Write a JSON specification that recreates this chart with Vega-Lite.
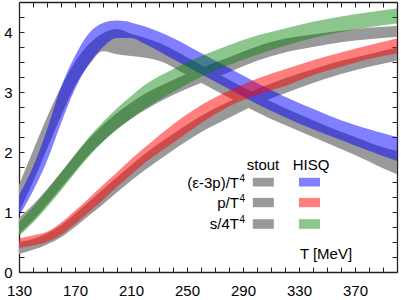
{
  "$schema": "https://vega.github.io/schema/vega-lite/v6.json",
  "autosize": "none",
  "width": 378,
  "height": 270,
  "padding": {"left": 19, "top": 2, "right": 4, "bottom": 28},
  "background": "white",
  "config": {
    "view": {"stroke": null},
    "font": "Liberation Sans",
    "axis": {"grid": false, "domainColor": "#222", "domainWidth": 1.3, "tickColor": "#222", "tickWidth": 1, "tickSize": -5, "labelFont": "Liberation Sans", "labelFontSize": 15, "labelColor": "black", "title": null}
  },
  "datasets": {
    "bands": [
      {"set": "stout", "q": "I", "T": 130, "lo": 1.0, "hi": 1.45},
      {"set": "stout", "q": "I", "T": 140, "lo": 1.5, "hi": 2.02},
      {"set": "stout", "q": "I", "T": 150, "lo": 2.05, "hi": 2.58},
      {"set": "stout", "q": "I", "T": 160, "lo": 2.6, "hi": 3.08},
      {"set": "stout", "q": "I", "T": 170, "lo": 3.1, "hi": 3.5},
      {"set": "stout", "q": "I", "T": 180, "lo": 3.45, "hi": 3.8},
      {"set": "stout", "q": "I", "T": 190, "lo": 3.68, "hi": 3.98},
      {"set": "stout", "q": "I", "T": 200, "lo": 3.63, "hi": 4.05},
      {"set": "stout", "q": "I", "T": 210, "lo": 3.6, "hi": 3.97},
      {"set": "stout", "q": "I", "T": 220, "lo": 3.57, "hi": 3.9},
      {"set": "stout", "q": "I", "T": 230, "lo": 3.52, "hi": 3.82},
      {"set": "stout", "q": "I", "T": 250, "lo": 3.28, "hi": 3.58},
      {"set": "stout", "q": "I", "T": 270, "lo": 3.03, "hi": 3.33},
      {"set": "stout", "q": "I", "T": 290, "lo": 2.78, "hi": 3.08},
      {"set": "stout", "q": "I", "T": 310, "lo": 2.55, "hi": 2.84},
      {"set": "stout", "q": "I", "T": 330, "lo": 2.35, "hi": 2.63},
      {"set": "stout", "q": "I", "T": 350, "lo": 2.15, "hi": 2.43},
      {"set": "stout", "q": "I", "T": 370, "lo": 1.95, "hi": 2.25},
      {"set": "stout", "q": "I", "T": 390, "lo": 1.73, "hi": 2.08},
      {"set": "stout", "q": "I", "T": 400, "lo": 1.63, "hi": 2.02},

      {"set": "stout", "q": "p", "T": 130, "lo": 0.3, "hi": 0.5},
      {"set": "stout", "q": "p", "T": 140, "lo": 0.37, "hi": 0.55},
      {"set": "stout", "q": "p", "T": 150, "lo": 0.46, "hi": 0.64},
      {"set": "stout", "q": "p", "T": 160, "lo": 0.58, "hi": 0.78},
      {"set": "stout", "q": "p", "T": 170, "lo": 0.75, "hi": 0.97},
      {"set": "stout", "q": "p", "T": 180, "lo": 0.94, "hi": 1.17},
      {"set": "stout", "q": "p", "T": 190, "lo": 1.13, "hi": 1.38},
      {"set": "stout", "q": "p", "T": 200, "lo": 1.33, "hi": 1.58},
      {"set": "stout", "q": "p", "T": 210, "lo": 1.52, "hi": 1.78},
      {"set": "stout", "q": "p", "T": 220, "lo": 1.7, "hi": 1.97},
      {"set": "stout", "q": "p", "T": 240, "lo": 2.03, "hi": 2.3},
      {"set": "stout", "q": "p", "T": 260, "lo": 2.33, "hi": 2.6},
      {"set": "stout", "q": "p", "T": 280, "lo": 2.57, "hi": 2.84},
      {"set": "stout", "q": "p", "T": 300, "lo": 2.8, "hi": 3.05},
      {"set": "stout", "q": "p", "T": 320, "lo": 2.98, "hi": 3.23},
      {"set": "stout", "q": "p", "T": 340, "lo": 3.15, "hi": 3.38},
      {"set": "stout", "q": "p", "T": 360, "lo": 3.3, "hi": 3.52},
      {"set": "stout", "q": "p", "T": 380, "lo": 3.42, "hi": 3.63},
      {"set": "stout", "q": "p", "T": 400, "lo": 3.52, "hi": 3.74},

      {"set": "stout", "q": "s", "T": 130, "lo": 0.63, "hi": 0.9},
      {"set": "stout", "q": "s", "T": 140, "lo": 0.86, "hi": 1.12},
      {"set": "stout", "q": "s", "T": 150, "lo": 1.12, "hi": 1.38},
      {"set": "stout", "q": "s", "T": 160, "lo": 1.4, "hi": 1.66},
      {"set": "stout", "q": "s", "T": 170, "lo": 1.68, "hi": 1.95},
      {"set": "stout", "q": "s", "T": 180, "lo": 1.95, "hi": 2.22},
      {"set": "stout", "q": "s", "T": 190, "lo": 2.18, "hi": 2.45},
      {"set": "stout", "q": "s", "T": 200, "lo": 2.38, "hi": 2.65},
      {"set": "stout", "q": "s", "T": 210, "lo": 2.55, "hi": 2.82},
      {"set": "stout", "q": "s", "T": 220, "lo": 2.7, "hi": 2.97},
      {"set": "stout", "q": "s", "T": 240, "lo": 2.95, "hi": 3.2},
      {"set": "stout", "q": "s", "T": 260, "lo": 3.15, "hi": 3.4},
      {"set": "stout", "q": "s", "T": 280, "lo": 3.33, "hi": 3.58},
      {"set": "stout", "q": "s", "T": 300, "lo": 3.52, "hi": 3.76},
      {"set": "stout", "q": "s", "T": 320, "lo": 3.66, "hi": 3.89},
      {"set": "stout", "q": "s", "T": 340, "lo": 3.75, "hi": 3.96},
      {"set": "stout", "q": "s", "T": 360, "lo": 3.83, "hi": 4.02},
      {"set": "stout", "q": "s", "T": 380, "lo": 3.88, "hi": 4.07},
      {"set": "stout", "q": "s", "T": 400, "lo": 3.92, "hi": 4.1},

      {"set": "HISQ", "q": "I", "T": 130, "lo": 0.93, "hi": 1.28},
      {"set": "HISQ", "q": "I", "T": 140, "lo": 1.35, "hi": 1.75},
      {"set": "HISQ", "q": "I", "T": 150, "lo": 1.85, "hi": 2.37},
      {"set": "HISQ", "q": "I", "T": 160, "lo": 2.48, "hi": 3.08},
      {"set": "HISQ", "q": "I", "T": 170, "lo": 3.05, "hi": 3.6},
      {"set": "HISQ", "q": "I", "T": 180, "lo": 3.47, "hi": 3.98},
      {"set": "HISQ", "q": "I", "T": 190, "lo": 3.75, "hi": 4.15},
      {"set": "HISQ", "q": "I", "T": 200, "lo": 3.9, "hi": 4.19},
      {"set": "HISQ", "q": "I", "T": 210, "lo": 3.9, "hi": 4.16},
      {"set": "HISQ", "q": "I", "T": 220, "lo": 3.8, "hi": 4.09},
      {"set": "HISQ", "q": "I", "T": 240, "lo": 3.55, "hi": 3.9},
      {"set": "HISQ", "q": "I", "T": 260, "lo": 3.3, "hi": 3.65},
      {"set": "HISQ", "q": "I", "T": 280, "lo": 3.05, "hi": 3.4},
      {"set": "HISQ", "q": "I", "T": 300, "lo": 2.8, "hi": 3.15},
      {"set": "HISQ", "q": "I", "T": 320, "lo": 2.58, "hi": 2.92},
      {"set": "HISQ", "q": "I", "T": 340, "lo": 2.38, "hi": 2.72},
      {"set": "HISQ", "q": "I", "T": 360, "lo": 2.2, "hi": 2.53},
      {"set": "HISQ", "q": "I", "T": 380, "lo": 2.02, "hi": 2.38},
      {"set": "HISQ", "q": "I", "T": 400, "lo": 1.85, "hi": 2.25},

      {"set": "HISQ", "q": "p", "T": 130, "lo": 0.4, "hi": 0.56},
      {"set": "HISQ", "q": "p", "T": 140, "lo": 0.44, "hi": 0.61},
      {"set": "HISQ", "q": "p", "T": 150, "lo": 0.5, "hi": 0.67},
      {"set": "HISQ", "q": "p", "T": 160, "lo": 0.62, "hi": 0.82},
      {"set": "HISQ", "q": "p", "T": 170, "lo": 0.8, "hi": 1.02},
      {"set": "HISQ", "q": "p", "T": 180, "lo": 1.0, "hi": 1.23},
      {"set": "HISQ", "q": "p", "T": 190, "lo": 1.2, "hi": 1.45},
      {"set": "HISQ", "q": "p", "T": 200, "lo": 1.42, "hi": 1.66},
      {"set": "HISQ", "q": "p", "T": 210, "lo": 1.62, "hi": 1.88},
      {"set": "HISQ", "q": "p", "T": 220, "lo": 1.82, "hi": 2.08},
      {"set": "HISQ", "q": "p", "T": 240, "lo": 2.15, "hi": 2.46},
      {"set": "HISQ", "q": "p", "T": 260, "lo": 2.48, "hi": 2.78},
      {"set": "HISQ", "q": "p", "T": 280, "lo": 2.76, "hi": 3.02},
      {"set": "HISQ", "q": "p", "T": 300, "lo": 2.95, "hi": 3.22},
      {"set": "HISQ", "q": "p", "T": 320, "lo": 3.1, "hi": 3.38},
      {"set": "HISQ", "q": "p", "T": 340, "lo": 3.28, "hi": 3.53},
      {"set": "HISQ", "q": "p", "T": 360, "lo": 3.42, "hi": 3.66},
      {"set": "HISQ", "q": "p", "T": 380, "lo": 3.55, "hi": 3.78},
      {"set": "HISQ", "q": "p", "T": 400, "lo": 3.64, "hi": 3.89},

      {"set": "HISQ", "q": "s", "T": 130, "lo": 0.6, "hi": 0.83},
      {"set": "HISQ", "q": "s", "T": 140, "lo": 0.82, "hi": 1.08},
      {"set": "HISQ", "q": "s", "T": 150, "lo": 1.08, "hi": 1.36},
      {"set": "HISQ", "q": "s", "T": 160, "lo": 1.36, "hi": 1.66},
      {"set": "HISQ", "q": "s", "T": 170, "lo": 1.65, "hi": 1.96},
      {"set": "HISQ", "q": "s", "T": 180, "lo": 1.93, "hi": 2.25},
      {"set": "HISQ", "q": "s", "T": 190, "lo": 2.17, "hi": 2.5},
      {"set": "HISQ", "q": "s", "T": 200, "lo": 2.38, "hi": 2.73},
      {"set": "HISQ", "q": "s", "T": 210, "lo": 2.56, "hi": 2.93},
      {"set": "HISQ", "q": "s", "T": 220, "lo": 2.72, "hi": 3.12},
      {"set": "HISQ", "q": "s", "T": 240, "lo": 3.0, "hi": 3.38},
      {"set": "HISQ", "q": "s", "T": 260, "lo": 3.25, "hi": 3.6},
      {"set": "HISQ", "q": "s", "T": 280, "lo": 3.45, "hi": 3.78},
      {"set": "HISQ", "q": "s", "T": 300, "lo": 3.62, "hi": 3.94},
      {"set": "HISQ", "q": "s", "T": 320, "lo": 3.77, "hi": 4.06},
      {"set": "HISQ", "q": "s", "T": 340, "lo": 3.9, "hi": 4.17},
      {"set": "HISQ", "q": "s", "T": 360, "lo": 4.0, "hi": 4.26},
      {"set": "HISQ", "q": "s", "T": 380, "lo": 4.08, "hi": 4.33},
      {"set": "HISQ", "q": "s", "T": 400, "lo": 4.14, "hi": 4.39}
    ]
  },
  "resolve": {"axis": {"x": "independent", "y": "independent"}},
  "layer": [
    {
      "data": {"name": "bands"},
      "transform": [{"filter": "datum.set === 'stout'"}],
      "mark": {"type": "area", "interpolate": "monotone", "color": "#999999", "opacity": 1, "clip": true},
      "encoding": {
        "x": {"field": "T", "type": "quantitative", "scale": {"domain": [130, 400], "nice": false, "zero": false},
          "axis": {"orient": "bottom", "values": [130,140,150,160,170,180,190,200,210,220,230,240,250,260,270,280,290,300,310,320,330,340,350,360,370,380,390,400], "labelExpr": "datum.value % 40 === 10 ? format(datum.value, 'd') : ''", "labelPadding": 16, "labelDx": 3, "labelFlush": false, "labelOverlap": false}},
        "y": {"field": "lo", "type": "quantitative", "scale": {"domain": [0, 4.5], "nice": false, "zero": false},
          "axis": {"orient": "left", "values": [0,0.25,0.5,0.75,1,1.25,1.5,1.75,2,2.25,2.5,2.75,3,3.25,3.5,3.75,4,4.25], "labelExpr": "datum.value % 1 === 0 ? format(datum.value, 'd') : ''", "labelPadding": 12, "labelFlush": false, "labelOverlap": false}},
        "y2": {"field": "hi"},
        "detail": {"field": "q"}
      }
    },
    {
      "data": {"name": "bands"},
      "transform": [{"filter": "datum.set === 'HISQ' && datum.q === 'I'"}],
      "mark": {"type": "area", "interpolate": "monotone", "color": "#0000ff", "opacity": 0.5, "clip": true},
      "encoding": {
        "x": {"field": "T", "type": "quantitative", "axis": {"orient": "top", "values": [130,140,150,160,170,180,190,200,210,220,230,240,250,260,270,280,290,300,310,320,330,340,350,360,370,380,390,400], "labels": false}},
        "y": {"field": "lo", "type": "quantitative", "axis": {"orient": "right", "values": [0,0.25,0.5,0.75,1,1.25,1.5,1.75,2,2.25,2.5,2.75,3,3.25,3.5,3.75,4,4.25], "labels": false}},
        "y2": {"field": "hi"}
      }
    },
    {
      "data": {"name": "bands"},
      "transform": [{"filter": "datum.set === 'HISQ' && datum.q === 'p'"}],
      "mark": {"type": "area", "interpolate": "monotone", "color": "#ff0000", "opacity": 0.5, "clip": true},
      "encoding": {
        "x": {"field": "T", "type": "quantitative", "axis": null},
        "y": {"field": "lo", "type": "quantitative", "axis": null},
        "y2": {"field": "hi"}
      }
    },
    {
      "data": {"name": "bands"},
      "transform": [{"filter": "datum.set === 'HISQ' && datum.q === 's'"}],
      "mark": {"type": "area", "interpolate": "monotone", "color": "#008000", "opacity": 0.45, "clip": true},
      "encoding": {
        "x": {"field": "T", "type": "quantitative", "axis": null},
        "y": {"field": "lo", "type": "quantitative", "axis": null},
        "y2": {"field": "hi"}
      }
    },
    {
      "data": {"values": [{}]},
      "mark": {"type": "text", "align": "center", "baseline": "middle", "fontSize": 15, "font": "Liberation Sans", "color": "black"},
      "encoding": {"x": {"datum": 304.3, "type": "quantitative", "axis": null}, "y": {"datum": 1.78, "type": "quantitative", "axis": null}, "text": {"value": "stout"}}
    },
    {
      "data": {"values": [{}]},
      "mark": {"type": "text", "align": "center", "baseline": "middle", "fontSize": 15, "font": "Liberation Sans", "color": "black"},
      "encoding": {"x": {"datum": 338.6, "type": "quantitative", "axis": null}, "y": {"datum": 1.78, "type": "quantitative", "axis": null}, "text": {"value": "HISQ"}}
    },
    {
      "data": {"values": [{}]},
      "mark": {"type": "text", "align": "right", "baseline": "middle", "fontSize": 15, "font": "Liberation Sans", "color": "black", "dx": -6},
      "encoding": {"x": {"datum": 291.4, "type": "quantitative", "axis": null}, "y": {"datum": 1.48, "type": "quantitative", "axis": null}, "text": {"value": "(ε-3p)/T"}}
    },
    {
      "data": {"values": [{}]},
      "mark": {"type": "text", "align": "right", "baseline": "middle", "fontSize": 10, "font": "Liberation Sans", "color": "black"},
      "encoding": {"x": {"datum": 291.4, "type": "quantitative", "axis": null}, "y": {"datum": 1.555, "type": "quantitative", "axis": null}, "text": {"value": "4"}}
    },
    {
      "data": {"values": [{}]},
      "mark": {"type": "text", "align": "right", "baseline": "middle", "fontSize": 15, "font": "Liberation Sans", "color": "black", "dx": -6},
      "encoding": {"x": {"datum": 291.4, "type": "quantitative", "axis": null}, "y": {"datum": 1.15, "type": "quantitative", "axis": null}, "text": {"value": "p/T"}}
    },
    {
      "data": {"values": [{}]},
      "mark": {"type": "text", "align": "right", "baseline": "middle", "fontSize": 10, "font": "Liberation Sans", "color": "black"},
      "encoding": {"x": {"datum": 291.4, "type": "quantitative", "axis": null}, "y": {"datum": 1.225, "type": "quantitative", "axis": null}, "text": {"value": "4"}}
    },
    {
      "data": {"values": [{}]},
      "mark": {"type": "text", "align": "right", "baseline": "middle", "fontSize": 15, "font": "Liberation Sans", "color": "black", "dx": -6},
      "encoding": {"x": {"datum": 291.4, "type": "quantitative", "axis": null}, "y": {"datum": 0.8, "type": "quantitative", "axis": null}, "text": {"value": "s/4T"}}
    },
    {
      "data": {"values": [{}]},
      "mark": {"type": "text", "align": "right", "baseline": "middle", "fontSize": 10, "font": "Liberation Sans", "color": "black"},
      "encoding": {"x": {"datum": 291.4, "type": "quantitative", "axis": null}, "y": {"datum": 0.875, "type": "quantitative", "axis": null}, "text": {"value": "4"}}
    },
    {
      "data": {"values": [{}]},
      "mark": {"type": "text", "align": "center", "baseline": "middle", "fontSize": 15, "font": "Liberation Sans", "color": "black"},
      "encoding": {"x": {"datum": 349.3, "type": "quantitative", "axis": null}, "y": {"datum": 0.3, "type": "quantitative", "axis": null}, "text": {"value": "T [MeV]"}}
    },
    {
      "data": {"values": [{}]},
      "mark": {"type": "rect", "color": "#999999"},
      "encoding": {"x": {"datum": 297, "type": "quantitative", "axis": null}, "x2": {"datum": 312}, "y": {"datum": 1.425, "type": "quantitative", "axis": null}, "y2": {"datum": 1.57}}
    },
    {
      "data": {"values": [{}]},
      "mark": {"type": "rect", "color": "#999999"},
      "encoding": {"x": {"datum": 297, "type": "quantitative", "axis": null}, "x2": {"datum": 312}, "y": {"datum": 1.08, "type": "quantitative", "axis": null}, "y2": {"datum": 1.235}}
    },
    {
      "data": {"values": [{}]},
      "mark": {"type": "rect", "color": "#999999"},
      "encoding": {"x": {"datum": 297, "type": "quantitative", "axis": null}, "x2": {"datum": 312}, "y": {"datum": 0.72, "type": "quantitative", "axis": null}, "y2": {"datum": 0.88}}
    },
    {
      "data": {"values": [{}]},
      "mark": {"type": "rect", "color": "#0000ff", "opacity": 0.5},
      "encoding": {"x": {"datum": 330, "type": "quantitative", "axis": null}, "x2": {"datum": 345}, "y": {"datum": 1.425, "type": "quantitative", "axis": null}, "y2": {"datum": 1.57}}
    },
    {
      "data": {"values": [{}]},
      "mark": {"type": "rect", "color": "#ff0000", "opacity": 0.5},
      "encoding": {"x": {"datum": 330, "type": "quantitative", "axis": null}, "x2": {"datum": 345}, "y": {"datum": 1.08, "type": "quantitative", "axis": null}, "y2": {"datum": 1.235}}
    },
    {
      "data": {"values": [{}]},
      "mark": {"type": "rect", "color": "#008000", "opacity": 0.45},
      "encoding": {"x": {"datum": 330, "type": "quantitative", "axis": null}, "x2": {"datum": 345}, "y": {"datum": 0.72, "type": "quantitative", "axis": null}, "y2": {"datum": 0.88}}
    }
  ]
}
